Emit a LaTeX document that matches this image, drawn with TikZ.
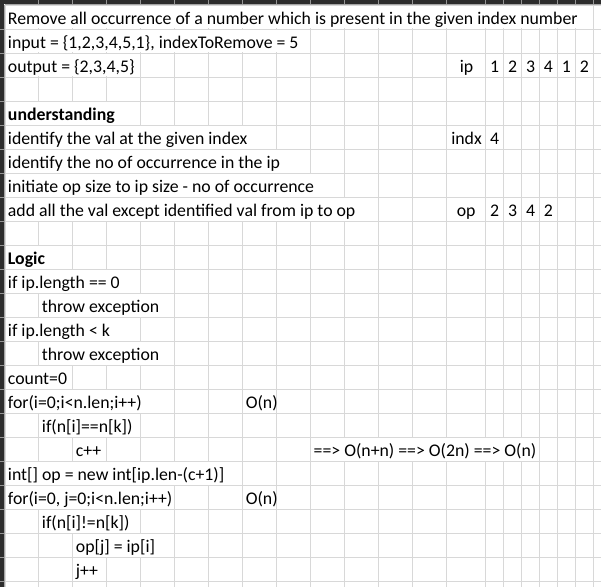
\documentclass[tikz,border=0pt]{standalone}
\usepackage{fontspec}
\setmainfont{Carlito}
\definecolor{gridc}{RGB}{216,216,216}
\definecolor{hdark}{RGB}{45,45,45}
\definecolor{htick}{RGB}{150,150,150}
\definecolor{hedge}{RGB}{165,165,165}
\begin{document}
\begin{tikzpicture}[x=0.75pt,y=-0.75pt,
  declare function={cx(\k)=(\k<14)*(5+33.975*\k)+(\k>=14)*(485.7+17.93*(\k-14)); ry(\i)=5+24.03*\i;},
  txt/.style={anchor=base west,inner sep=0pt,font=\fontsize{13.33}{15}\selectfont},
  num/.style={anchor=base,inner sep=0pt,font=\fontsize{13.33}{15}\selectfont},
  gridline/.style={draw=gridc,line width=0.75pt}]
\useasboundingbox (0,0) rectangle (601,587);
\fill[white] (0,0) rectangle (601,587);
% grid
\foreach \i in {0,...,24} \draw[gridline] (5,{ry(\i)}) -- (601,{ry(\i)});
\foreach \k in {0,...,21} \draw[gridline] ({cx(\k)},5) -- ({cx(\k)},587);
% overflow text hides gridlines
\foreach \r/\a/\b in {1/1/19,2/1/8,3/1/3,5/1/3,6/1/7,7/1/8,8/1/9,9/1/10,11/1/1,12/1/3,13/2/4,14/1/3,15/2/4,16/1/1,17/1/4,18/2/3,19/10/16,20/1/6,21/1/4,22/2/3,23/3/4}
  \fill[white] ({cx(\a)-1.2},{ry(\r-1)+0.6}) rectangle ({cx(\b)+1.2},{ry(\r)-0.6});
% headers
\fill[hdark] (0,0) rectangle (601,4);
\fill[hdark] (0,0) rectangle (4,587);
\foreach \k in {1,...,21} \draw[htick,line width=0.75pt] ({cx(\k)},0) -- ({cx(\k)},4);
\foreach \i in {1,...,24} \draw[htick,line width=0.75pt] (0,{ry(\i)}) -- (4,{ry(\i)});
\draw[hedge,line width=0.75pt] (4.5,4.5) -- (601,4.5);
\draw[hedge,line width=0.75pt] (4.5,4.5) -- (4.5,587);
% texts
\node[txt] (t1) at ({cx(0)+2.7},{ry(1)-5}) {Remove all occurrence of a number which is present in the given index number};
\node[txt] (t2) at ({cx(0)+2.7},{ry(2)-5}) {input = \{1,2,3,4,5,1\}, indexToRemove = 5};
\node[txt] (t3) at ({cx(0)+2.7},{ry(3)-5}) {output = \{2,3,4,5\}};
\node[txt] (ip) at (459.5,{ry(3)-5}) {ip};
\foreach \v [count=\j from 14] in {1,2,3,4,1,2}
  \node[num] (ip\j) at ({cx(\j)+8.965},{ry(3)-5}) {\v};
\node[txt,font=\fontsize{13.33}{15}\selectfont\bfseries] (t5) at ({cx(0)+2.7},{ry(5)-5}) {understanding};
\node[txt] (t6) at ({cx(0)+2.7},{ry(6)-5}) {identify the val at the given index};
\node[txt] (indx) at (451,{ry(6)-5}) {indx};
\node[num] (indxv) at ({cx(14)+8.965},{ry(6)-5}) {4};
\node[txt] (t7) at ({cx(0)+2.7},{ry(7)-5}) {identify the no of occurrence in the ip};
\node[txt] (t8) at ({cx(0)+2.7},{ry(8)-5}) {initiate op size to ip size - no of occurrence};
\node[txt] (t9) at ({cx(0)+2.7},{ry(9)-5}) {add all the val except identified val from ip to op};
\node[txt] (op) at (456.5,{ry(9)-5}) {op};
\foreach \v [count=\j from 14] in {2,3,4,2}
  \node[num] (op\j) at ({cx(\j)+8.965},{ry(9)-5}) {\v};
\node[txt,font=\fontsize{13.33}{15}\selectfont\bfseries] (t11) at ({cx(0)+2.7},{ry(11)-5}) {Logic};
\node[txt] (t12) at ({cx(0)+2.7},{ry(12)-5}) {if ip.length == 0};
\node[txt] (t13) at ({cx(1)+2.7},{ry(13)-5}) {throw exception};
\node[txt] (t14) at ({cx(0)+2.7},{ry(14)-5}) {if ip.length < k};
\node[txt] (t15) at ({cx(1)+2.7},{ry(15)-5}) {throw exception};
\node[txt] (t16) at ({cx(0)+2.7},{ry(16)-5}) {count=0};
\node[txt] (t17) at ({cx(0)+2.7},{ry(17)-5}) {for(i=0;i<n.len;i++)};
\node[txt] (o17) at ({cx(7)+2.7},{ry(17)-5}) {O(n)};
\node[txt] (t18) at ({cx(1)+2.7},{ry(18)-5}) {if(n[i]==n[k])};
\node[txt] (t19) at ({cx(2)+2.7},{ry(19)-5}) {c++};
\node[txt] (c19) at ({cx(9)+2.7},{ry(19)-5}) {==> O(n+n) ==> O(2n) ==> O(n)};
\node[txt] (t20) at ({cx(0)+2.7},{ry(20)-5}) {int[] op = new int[ip.len-(c+1)]};
\node[txt] (t21) at ({cx(0)+2.7},{ry(21)-5}) {for(i=0, j=0;i<n.len;i++)};
\node[txt] (o21) at ({cx(7)+2.7},{ry(21)-5}) {O(n)};
\node[txt] (t22) at ({cx(1)+2.7},{ry(22)-5}) {if(n[i]!=n[k])};
\node[txt] (t23) at ({cx(2)+2.7},{ry(23)-5}) {op[j] = ip[i]};
\node[txt] (t24) at ({cx(2)+2.7},{ry(24)-5}) {j++};
\end{tikzpicture}
\end{document}
